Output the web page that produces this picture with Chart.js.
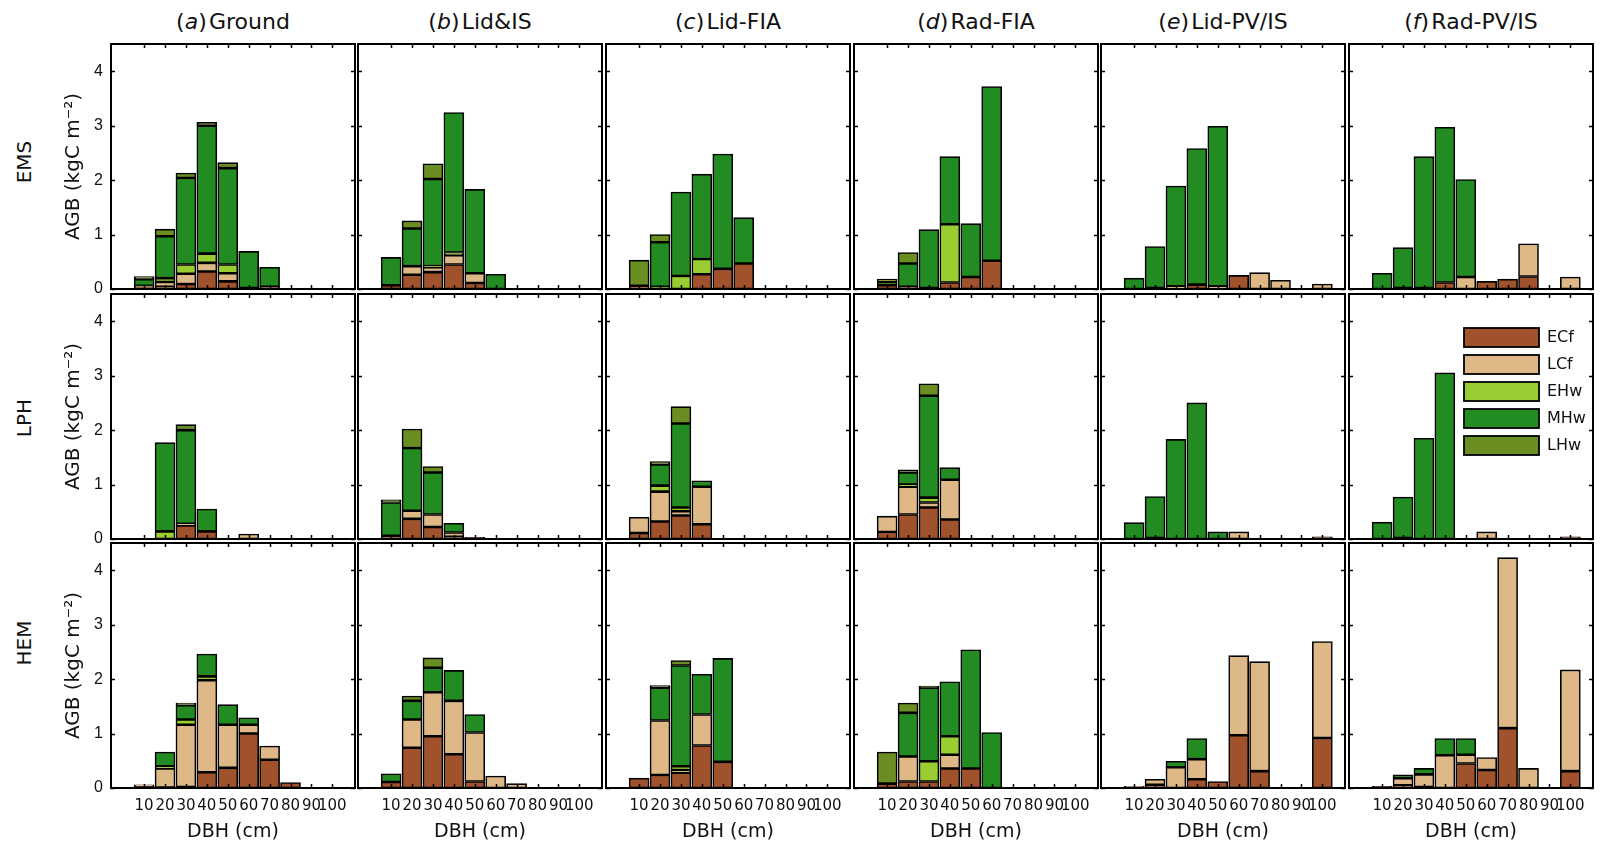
<!DOCTYPE html>
<html>
<head>
<meta charset="utf-8">
<script src="https://cdn.jsdelivr.net/npm/chart.js@4.4.1/dist/chart.umd.min.js"></script>
<style>
body { margin: 0; background: #fff; }
#fig { position: relative; width: 1606px; height: 847px; overflow: hidden; font-family: "DejaVu Sans", sans-serif; color: #111; }
#fig canvas { position: absolute; }
.coltitle { position: absolute; top: 21px; transform: translate(-50%, -50%); font-size: 22px; white-space: nowrap; }
.rowlabel { position: absolute; left: 24px; transform: translate(-50%, -50%) rotate(-90deg); font-size: 20px; white-space: nowrap; }
</style>
</head>
<body>
<div id="fig"></div>
<script>
// ---------- Data ----------
const DBH_POS = [1, 2, 3, 4, 5, 6, 7, 8, 9, 10];
const DBH_LABELS = ["10", "20", "30", "40", "50", "60", "70", "80", "90", "100"];
const AGB_TICKS = [0, 1, 2, 3, 4];
const SPECIES = ["ECf", "LCf", "EHw", "MHw", "LHw"];
const SPECIES_COLORS = ["#A0522D", "#DEB887", "#9ACD32", "#228B22", "#6B8E23"];
const REGIONS = ["EMS", "LPH", "HEM"];
const PANEL_LETTERS = ["a", "b", "c", "d", "e", "f"];
const PANEL_NAMES = ["Ground", "Lid&IS", "Lid-FIA", "Rad-FIA", "Lid-PV/IS", "Rad-PV/IS"];

// each panel: rows = ECf, LCf, EHw, MHw, LHw; columns = DBH 10..100
const EMS_Ground = [
    [0.04, 0.04, 0.09, 0.32, 0.14, 0.02, 0.04, 0, 0, 0],
    [0.01, 0.09, 0.19, 0.16, 0.15, 0, 0, 0, 0, 0],
    [0.01, 0.07, 0.17, 0.17, 0.16, 0, 0, 0, 0, 0],
    [0.12, 0.77, 1.59, 2.35, 1.77, 0.67, 0.36, 0, 0, 0],
    [0.05, 0.13, 0.09, 0.06, 0.10, 0, 0, 0, 0, 0]
];
const EMS_LidIS = [
    [0.07, 0.26, 0.31, 0.45, 0.11, 0, 0, 0, 0, 0],
    [0, 0.16, 0.09, 0.17, 0.18, 0, 0, 0, 0, 0],
    [0, 0, 0.02, 0.05, 0, 0, 0, 0, 0, 0],
    [0.51, 0.69, 1.60, 2.57, 1.54, 0.27, 0, 0, 0, 0],
    [0, 0.14, 0.28, 0, 0, 0, 0, 0, 0, 0]
];
const EMS_LidFIA = [
    [0.06, 0.02, 0, 0.27, 0.37, 0.47, 0, 0, 0, 0],
    [0, 0, 0, 0, 0, 0, 0, 0, 0, 0],
    [0, 0.02, 0.24, 0.28, 0, 0, 0, 0, 0, 0],
    [0, 0.82, 1.54, 1.56, 2.11, 0.84, 0, 0, 0, 0],
    [0.47, 0.14, 0, 0, 0, 0, 0, 0, 0, 0]
];
const EMS_RadFIA = [
    [0.07, 0.04, 0.02, 0.12, 0.22, 0.52, 0, 0, 0, 0],
    [0, 0, 0, 0, 0, 0, 0, 0, 0, 0],
    [0, 0, 0, 1.07, 0, 0, 0, 0, 0, 0],
    [0.06, 0.43, 1.07, 1.24, 0.98, 3.20, 0, 0, 0, 0],
    [0.05, 0.20, 0, 0, 0, 0, 0, 0, 0, 0]
];
const EMS_LidPVIS = [
    [0, 0.02, 0, 0.08, 0, 0.25, 0, 0, 0, 0],
    [0, 0, 0.05, 0, 0.05, 0, 0.30, 0.16, 0, 0.09],
    [0, 0, 0, 0, 0, 0, 0, 0, 0, 0],
    [0.20, 0.76, 1.84, 2.50, 2.94, 0, 0, 0, 0, 0],
    [0, 0, 0, 0, 0, 0, 0, 0, 0, 0]
];
const EMS_RadPVIS = [
    [0, 0.02, 0.02, 0.12, 0, 0.14, 0.18, 0.23, 0, 0],
    [0, 0, 0, 0, 0.22, 0, 0, 0.60, 0, 0.22],
    [0, 0, 0, 0, 0, 0, 0, 0, 0, 0],
    [0.29, 0.74, 2.41, 2.85, 1.79, 0, 0, 0, 0, 0],
    [0, 0, 0, 0, 0, 0, 0, 0, 0, 0]
];

const LPH_Ground = [
    [0, 0, 0.25, 0.14, 0, 0, 0, 0, 0, 0],
    [0, 0, 0.03, 0, 0, 0.09, 0, 0, 0, 0],
    [0, 0.14, 0, 0, 0, 0, 0, 0, 0, 0],
    [0, 1.63, 1.72, 0.41, 0, 0, 0, 0, 0, 0],
    [0, 0, 0.10, 0, 0, 0, 0, 0, 0, 0]
];
const LPH_LidIS = [
    [0.06, 0.37, 0.22, 0.04, 0.03, 0, 0, 0, 0, 0],
    [0, 0.15, 0.23, 0.08, 0, 0, 0, 0, 0, 0],
    [0, 0, 0, 0, 0, 0, 0, 0, 0, 0],
    [0.61, 1.15, 0.77, 0.17, 0, 0, 0, 0, 0, 0],
    [0.05, 0.35, 0.11, 0, 0, 0, 0, 0, 0, 0]
];
const LPH_LidFIA = [
    [0.11, 0.32, 0.43, 0.27, 0, 0, 0, 0, 0, 0],
    [0.29, 0.55, 0.08, 0.69, 0, 0, 0, 0, 0, 0],
    [0, 0.11, 0.07, 0, 0, 0, 0, 0, 0, 0],
    [0, 0.39, 1.54, 0.11, 0, 0, 0, 0, 0, 0],
    [0, 0.05, 0.31, 0, 0, 0, 0, 0, 0, 0]
];
const LPH_RadFIA = [
    [0.13, 0.45, 0.58, 0.36, 0, 0, 0, 0, 0, 0],
    [0.29, 0.51, 0.09, 0.73, 0, 0, 0, 0, 0, 0],
    [0, 0.04, 0.09, 0, 0, 0, 0, 0, 0, 0],
    [0, 0.22, 1.87, 0.22, 0, 0, 0, 0, 0, 0],
    [0, 0.05, 0.22, 0, 0, 0, 0, 0, 0, 0]
];
const LPH_LidPVIS = [
    [0, 0.02, 0, 0, 0, 0, 0, 0, 0, 0.04],
    [0, 0, 0, 0, 0, 0.13, 0, 0, 0, 0],
    [0, 0, 0, 0, 0, 0, 0, 0, 0, 0],
    [0.30, 0.76, 1.83, 2.50, 0.13, 0, 0, 0, 0, 0],
    [0, 0, 0, 0, 0, 0, 0, 0, 0, 0]
];
const LPH_RadPVIS = [
    [0, 0.02, 0, 0, 0, 0, 0, 0, 0, 0.04],
    [0, 0, 0, 0, 0, 0.13, 0, 0, 0, 0],
    [0, 0, 0, 0, 0, 0, 0, 0, 0, 0],
    [0.31, 0.75, 1.85, 3.05, 0, 0, 0, 0, 0, 0],
    [0, 0, 0, 0, 0, 0, 0, 0, 0, 0]
];

const HEM_Ground = [
    [0.03, 0.01, 0.02, 0.29, 0.37, 1.00, 0.52, 0.10, 0, 0],
    [0.03, 0.35, 1.14, 1.69, 0.79, 0.16, 0.25, 0, 0, 0],
    [0, 0.04, 0.10, 0.07, 0, 0, 0, 0, 0, 0],
    [0, 0.26, 0.26, 0.41, 0.37, 0.13, 0, 0, 0, 0],
    [0, 0, 0.04, 0, 0, 0, 0, 0, 0, 0]
];
const HEM_LidIS = [
    [0.11, 0.74, 0.95, 0.62, 0.12, 0, 0, 0, 0, 0],
    [0, 0.52, 0.81, 0.98, 0.90, 0.22, 0.08, 0, 0, 0],
    [0, 0, 0, 0, 0, 0, 0, 0, 0, 0],
    [0.15, 0.34, 0.45, 0.56, 0.33, 0, 0, 0, 0, 0],
    [0, 0.09, 0.18, 0, 0, 0, 0, 0, 0, 0]
];
const HEM_LidFIA = [
    [0.18, 0.24, 0.28, 0.78, 0.48, 0, 0, 0, 0, 0],
    [0, 1.00, 0.05, 0.57, 0, 0, 0, 0, 0, 0],
    [0, 0, 0.07, 0, 0, 0, 0, 0, 0, 0],
    [0, 0.60, 1.85, 0.74, 1.90, 0, 0, 0, 0, 0],
    [0, 0.04, 0.09, 0, 0, 0, 0, 0, 0, 0]
];
const HEM_RadFIA = [
    [0.08, 0.12, 0.12, 0.36, 0.36, 0, 0, 0, 0, 0],
    [0, 0.46, 0, 0.25, 0, 0, 0, 0, 0, 0],
    [0, 0, 0.37, 0.34, 0, 0, 0, 0, 0, 0],
    [0, 0.80, 1.35, 1.00, 2.18, 1.02, 0, 0, 0, 0],
    [0.58, 0.18, 0.03, 0, 0, 0, 0, 0, 0, 0]
];
const HEM_LidPVIS = [
    [0.02, 0.06, 0, 0.16, 0.12, 0.97, 0.31, 0, 0, 0.92],
    [0.01, 0.10, 0.38, 0.37, 0, 1.46, 2.01, 0, 0, 1.77],
    [0, 0, 0, 0, 0, 0, 0, 0, 0, 0],
    [0, 0, 0.11, 0.38, 0, 0, 0, 0, 0, 0],
    [0, 0, 0, 0, 0, 0, 0, 0, 0, 0]
];
const HEM_RadPVIS = [
    [0.03, 0.05, 0.02, 0, 0.45, 0.33, 1.10, 0, 0, 0.31],
    [0, 0.13, 0.23, 0.60, 0.16, 0.23, 3.13, 0.36, 0, 1.86],
    [0, 0, 0, 0, 0, 0, 0, 0, 0, 0],
    [0, 0.06, 0.11, 0.31, 0.30, 0, 0, 0, 0, 0],
    [0, 0, 0, 0, 0, 0, 0, 0, 0, 0]
];

const PANELS = [
    [EMS_Ground, EMS_LidIS, EMS_LidFIA, EMS_RadFIA, EMS_LidPVIS, EMS_RadPVIS],
    [LPH_Ground, LPH_LidIS, LPH_LidFIA, LPH_RadFIA, LPH_LidPVIS, LPH_RadPVIS],
    [HEM_Ground, HEM_LidIS, HEM_LidFIA, HEM_RadFIA, HEM_LidPVIS, HEM_RadPVIS]
];

// ---------- Layout (pixel boxes of each axes) ----------
const BOX_LEFT = [111, 358, 606, 854, 1101, 1349];
const BOX_TOP = [44, 294, 543];
const BOX_W = 244;
const BOX_H = 245;
const ROW_LABEL_Y = [162, 418, 643];
const FONT = "'DejaVu Sans', sans-serif";
const TEXT = "#111";

// ---------- Box + inward ticks ----------
const boxPlugin = {
    id: "boxTicks",
    afterDatasetsDraw(chart) {
        const { ctx, chartArea: a, scales: { x, y } } = chart;
        ctx.save();
        ctx.strokeStyle = "#000";
        ctx.lineWidth = 1.5;
        ctx.beginPath();
        AGB_TICKS.forEach(v => {
            const py = Math.round(y.getPixelForValue(v)) + 0.5;
            ctx.moveTo(a.left, py); ctx.lineTo(a.left + 4, py);
            ctx.moveTo(a.right, py); ctx.lineTo(a.right - 4, py);
        });
        DBH_POS.forEach(v => {
            const px = Math.round(x.getPixelForValue(v)) + 0.5;
            ctx.moveTo(px, a.top); ctx.lineTo(px, a.top + 4);
            ctx.moveTo(px, a.bottom); ctx.lineTo(px, a.bottom - 4);
        });
        ctx.stroke();
        ctx.lineWidth = 2;
        ctx.strokeRect(a.left, a.top, a.right - a.left, a.bottom - a.top);
        ctx.restore();
    }
};

// legend drawn inside one panel
const legendPlugin = {
    id: "speciesLegend",
    afterDraw(chart) {
        if (!chart.options.plugins.speciesLegend.show) return;
        const { ctx, chartArea: a } = chart;
        ctx.save();
        ctx.font = "16px " + FONT;
        ctx.textBaseline = "middle";
        ctx.textAlign = "left";
        SPECIES.forEach((name, i) => {
            const top = a.top + 34 + i * 27;
            ctx.fillStyle = SPECIES_COLORS[i];
            ctx.fillRect(a.left + 115, top, 75, 19);
            ctx.strokeStyle = "#000";
            ctx.lineWidth = 1.8;
            ctx.strokeRect(a.left + 115, top, 75, 19);
            ctx.fillStyle = TEXT;
            ctx.fillText(name, a.left + 198, top + 10);
        });
        ctx.restore();
    }
};

// ---------- Build one panel ----------
function drawPanel(r, c) {
    const fig = document.getElementById("fig");
    const firstCol = c === 0;
    const lastRow = r === 2;
    const padL = firstCol ? 49 : 2;
    const padB = lastRow ? 59 : (firstCol ? 8 : 2);
    const canvas = document.createElement("canvas");
    canvas.width = BOX_W + padL + 2;
    canvas.height = BOX_H + 2 + padB;
    canvas.style.left = (BOX_LEFT[c] - padL) + "px";
    canvas.style.top = (BOX_TOP[r] - 2) + "px";
    fig.appendChild(canvas);

    const values = PANELS[r][c];
    const datasets = SPECIES.map((name, i) => ({
        label: name,
        data: DBH_POS.map((p, k) => ({ x: p, y: values[i][k] })),
        backgroundColor: SPECIES_COLORS[i],
        borderColor: "#000",
        borderWidth: 1.6,
        borderSkipped: false,
        barThickness: 20
    }));

    new Chart(canvas.getContext("2d"), {
        type: "bar",
        data: { datasets: datasets },
        options: {
            responsive: false,
            animation: false,
            events: [],
            layout: { padding: { left: firstCol ? 0 : 2, right: 2, top: 2, bottom: lastRow ? 0 : padB } },
            plugins: {
                legend: { display: false },
                tooltip: { enabled: false },
                speciesLegend: { show: r === 1 && c === 5 }
            },
            scales: {
                x: {
                    type: "linear",
                    min: 0,
                    max: 10.5,
                    stacked: true,
                    display: lastRow,
                    grid: { display: false, drawTicks: false },
                    border: { display: false },
                    afterBuildTicks: s => { s.ticks = DBH_POS.map(v => ({ value: v })); },
                    afterFit: s => {
                        if (lastRow) s.height = 59;
                        s.paddingLeft = 0;
                        s.paddingRight = 0;
                    },
                    ticks: {
                        autoSkip: false,
                        maxRotation: 0,
                        minRotation: 0,
                        padding: 9,
                        color: TEXT,
                        font: { family: FONT, size: 15 },
                        callback: v => DBH_LABELS[v - 1]
                    },
                    title: {
                        display: true,
                        text: "DBH (cm)",
                        color: TEXT,
                        font: { family: FONT, size: 19 },
                        padding: { top: 0, bottom: 4 }
                    }
                },
                y: {
                    type: "linear",
                    min: 0,
                    max: 4.5,
                    stacked: true,
                    display: firstCol,
                    grid: { display: false, drawTicks: false },
                    border: { display: false },
                    afterBuildTicks: s => { s.ticks = AGB_TICKS.map(v => ({ value: v })); },
                    afterFit: s => {
                        if (firstCol) s.width = 49;
                        s.paddingTop = 0;
                        s.paddingBottom = 0;
                    },
                    ticks: {
                        padding: 8,
                        color: TEXT,
                        font: { family: "'Liberation Sans', sans-serif", size: 16 }
                    },
                    title: {
                        display: true,
                        text: "AGB (kgC m\u207B\u00B2)",
                        color: TEXT,
                        font: { family: FONT, size: 20 },
                        padding: { top: 0, bottom: 0 }
                    }
                }
            }
        },
        plugins: [boxPlugin, legendPlugin]
    });
}

// ---------- Labels ----------
function drawLabels() {
    const fig = document.getElementById("fig");
    PANEL_LETTERS.forEach((letter, c) => {
        const d = document.createElement("div");
        d.className = "coltitle";
        d.style.left = (BOX_LEFT[c] + BOX_W / 2) + "px";
        d.innerHTML = "(<i>" + letter + "</i>)&#8202;" + PANEL_NAMES[c].replace("&", "&amp;");
        fig.appendChild(d);
    });
    REGIONS.forEach((name, r) => {
        const d = document.createElement("div");
        d.className = "rowlabel";
        d.style.top = ROW_LABEL_Y[r] + "px";
        d.textContent = name;
        fig.appendChild(d);
    });
}

window.onload = function() {
    drawLabels();
    for (let r = 0; r < 3; r++) {
        for (let c = 0; c < 6; c++) drawPanel(r, c);
    }
};
</script>
</body>
</html>
